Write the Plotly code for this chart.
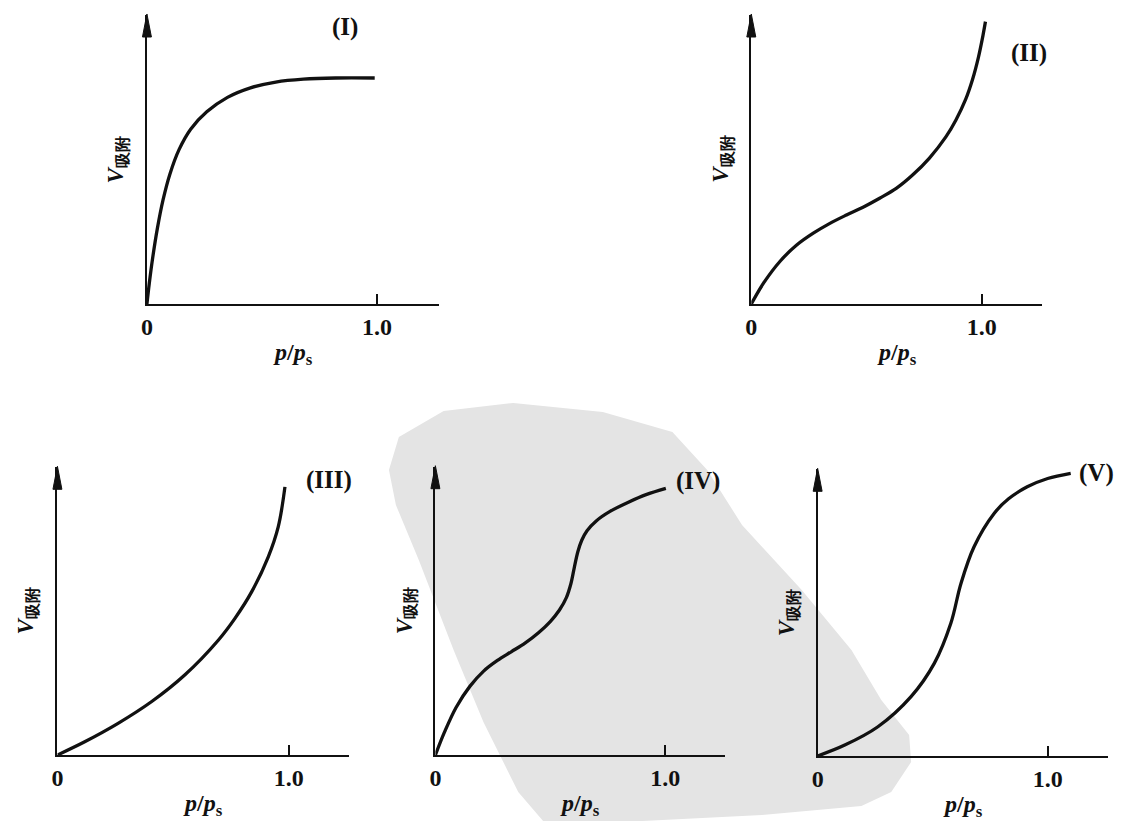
import plotly.graph_objects as go

W, H = 1121, 821

# ---- data (relative pressure p/ps, adsorbed volume, arbitrary units) ----
p_I = [0, 0.01, 0.025, 0.045, 0.07, 0.10, 0.14, 0.19, 0.26, 0.35, 0.45, 0.56, 0.68, 0.82, 0.99]
v_I = [0, 0.07, 0.16, 0.26, 0.36, 0.45, 0.535, 0.605, 0.665, 0.715, 0.748, 0.768, 0.778, 0.782, 0.782]

p_II = [0, 0.053, 0.125, 0.197, 0.269, 0.341, 0.413, 0.485, 0.557, 0.629, 0.701, 0.773,
        0.845, 0.888, 0.93, 0.96, 0.985, 1.005, 1.016]
v_II = [0, 0.072, 0.148, 0.204, 0.245, 0.279, 0.308, 0.335, 0.366, 0.40, 0.447, 0.505,
        0.579, 0.637, 0.708, 0.777, 0.852, 0.928, 0.977]

p_III = [0, 0.118, 0.262, 0.406, 0.55, 0.695, 0.767, 0.839, 0.911, 0.954, 0.983]
v_III = [0, 0.046, 0.11, 0.185, 0.278, 0.399, 0.475, 0.567, 0.689, 0.793, 0.932]

p_IV = [0, 0.04, 0.09, 0.15, 0.21, 0.27, 0.33, 0.39, 0.45, 0.50, 0.54, 0.57, 0.59, 0.605,
        0.62, 0.637, 0.66, 0.70, 0.76, 0.84, 0.92, 1.003]
v_IV = [0, 0.08, 0.165, 0.238, 0.291, 0.328, 0.358, 0.388, 0.425, 0.463, 0.503, 0.546, 0.595,
        0.652, 0.705, 0.745, 0.778, 0.812, 0.845, 0.877, 0.904, 0.925]

p_V = [0, 0.118, 0.262, 0.406, 0.507, 0.579, 0.623, 0.68, 0.767, 0.83, 0.911, 1.0, 1.10]
v_V = [0, 0.038, 0.102, 0.207, 0.323, 0.463, 0.602, 0.73, 0.846, 0.897, 0.939, 0.968, 0.986]

panel_names = ["(I)", "(II)", "(III)", "(IV)", "(V)"]
tick_vals = [0, 1.0]
tick_text = ["0", "1.0"]
series = [(p_I, v_I), (p_II, v_II), (p_III, v_III), (p_IV, v_IV), (p_V, v_V)]

# ---- layout geometry (pixels) ----
geom = [
    dict(ox=141.7, oy=304, top=15, xend=435, unit=231.3, lab=(0.862, 0.96)),
    dict(ox=749.3, oy=304, top=15, xend=1041.7, unit=231.7, lab=(1.203, 0.868)),
    dict(ox=51.7, oy=755, top=467.3, xend=345, unit=232.7, lab=(1.174, 0.955)),
    dict(ox=431.7, oy=755, top=466.7, xend=723.3, unit=231, lab=(1.145, 0.952)),
    dict(ox=816, oy=756, top=469.3, xend=1108.3, unit=231.3, lab=(1.212, 0.986)),
]

FONT = "Liberation Serif, Times New Roman, serif"
INK = "#111111"

fig = go.Figure()
shapes = []
annotations = []
layout_axes = {}


def px(x):
    return x / W


def py(y):
    return 1 - y / H


# watermark blob (light grey scan artefact)
blob = [(385, 470), (395, 437), (440, 411), (510, 403), (600, 412), (670, 432), (705, 470),
        (740, 525), (800, 590), (850, 650), (880, 700), (908, 735), (910, 762), (890, 792),
        (860, 806), (760, 815), (640, 821), (540, 821), (515, 792), (480, 722), (450, 650),
        (415, 560), (392, 505)]
path = "M " + " L ".join(f"{px(x):.5f},{py(y):.5f}" for x, y in blob) + " Z"
shapes.append(dict(type="path", xref="paper", yref="paper", path=path,
                   fillcolor="#e4e4e4", line=dict(width=0), layer="below"))

for i, (g, (xs, ys)) in enumerate(zip(geom, series)):
    k = "" if i == 0 else str(i + 1)
    xa, ya = "x" + k, "y" + k
    xr = (g["xend"] - g["ox"]) / g["unit"]
    fig.add_trace(go.Scatter(x=xs, y=ys, mode="lines", xaxis=xa, yaxis=ya,
                             line=dict(color=INK, width=3.3, shape="spline", smoothing=1.0),
                             showlegend=False, hoverinfo="skip"))
    layout_axes["xaxis" + k] = dict(
        domain=[px(g["ox"]), px(g["xend"])], range=[0, xr], anchor=ya,
        showline=True, linecolor=INK, linewidth=2, showgrid=False, zeroline=False,
        ticks="inside", ticklen=10, tickwidth=1.6, tickcolor=INK,
        tickvals=tick_vals, ticktext=tick_text, ticklabelstandoff=0,
        tickfont=dict(family=FONT, size=24, color=INK, weight="bold"),
        fixedrange=True)
    layout_axes["yaxis" + k] = dict(
        domain=[py(g["oy"]), py(g["top"])], range=[0, 1], anchor=xa,
        showline=True, linecolor=INK, linewidth=2, showgrid=False, zeroline=False,
        showticklabels=False, ticks="", fixedrange=True)
    # arrow head on the y axis
    tx, ty = g["ox"], g["top"]
    tri = (f"M {px(tx):.5f},{py(ty - 1):.5f} L {px(tx - 4.5):.5f},{py(ty + 22):.5f} "
           f"L {px(tx + 4.5):.5f},{py(ty + 22):.5f} Z")
    shapes.append(dict(type="path", xref="paper", yref="paper", path=tri,
                       fillcolor=INK, line=dict(color=INK, width=1)))
    # x title
    annotations.append(dict(xref=xa + " domain", yref=ya + " domain", x=0.5, y=0,
                            yshift=-50, showarrow=False, yanchor="middle",
                            text="<b><i>p</i>/<i>p</i><sub>s</sub></b>",
                            font=dict(family=FONT, size=24, color=INK)))
    # y title
    annotations.append(dict(xref=xa + " domain", yref=ya + " domain", x=0, y=0.5,
                            xshift=-30, showarrow=False, textangle=-90,
                            xanchor="center", yanchor="middle",
                            text="<b><i>V</i><sub>吸附</sub></b>",
                            font=dict(family=FONT, size=23, color=INK)))
    # panel label
    annotations.append(dict(xref=xa, yref=ya, x=g["lab"][0], y=g["lab"][1],
                            showarrow=False, text="<b>" + panel_names[i] + "</b>",
                            font=dict(family=FONT, size=25, color=INK)))

fig.update_layout(
    width=W, height=H, margin=dict(l=0, r=0, t=0, b=0),
    paper_bgcolor="white", plot_bgcolor="rgba(0,0,0,0)",
    shapes=shapes, annotations=annotations, showlegend=False,
    **layout_axes)

fig.write_html("out.html", config=dict(displayModeBar=False),
               post_script="document.body.style.margin='0';document.body.style.overflow='hidden';")
